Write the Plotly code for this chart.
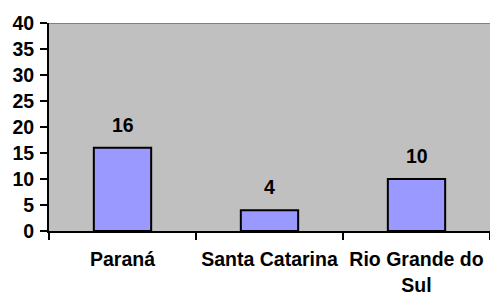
import plotly.graph_objects as go

categories = ["Paraná", "Santa Catarina", "Rio Grande do<br>Sul"]
values = [16, 4, 10]
y_ticks = [0, 5, 10, 15, 20, 25, 30, 35, 40]

FONT = dict(family="Liberation Sans, Arial, sans-serif", size=19.5, color="black", weight="bold")

fig = go.Figure()
fig.add_trace(go.Bar(
    x=categories, y=values,
    marker=dict(color="#9999FF", line=dict(color="black", width=2)),
    width=0.39,
    hoverinfo="skip",
))

for c, v in zip(categories, values):
    fig.add_annotation(x=c, y=v, text=str(v), showarrow=False,
                       yanchor="bottom", yshift=10, font=FONT)

fig.add_shape(type="line", xref="paper", yref="y", x0=0, x1=1, y0=40, y1=40,
              line=dict(color="#808080", width=2))

fig.update_layout(
    width=490, height=297,
    margin=dict(l=49, r=0, t=23, b=66),
    paper_bgcolor="white", plot_bgcolor="#C0C0C0",
    showlegend=False,
    font=FONT,
)
fig.update_yaxes(range=[0, 40], tickvals=y_ticks, ticks="outside", ticklen=7,
                 tickwidth=2, tickcolor="black", showline=True, linecolor="black",
                 linewidth=2, showgrid=False, zeroline=False, tickfont=FONT,
                 automargin=False, ticklabelstandoff=2)
fig.update_xaxes(ticks="outside", tickson="boundaries", ticklen=7, tickwidth=2,
                 tickcolor="black", showline=True, linecolor="black", linewidth=2,
                 showgrid=False, tickfont=FONT, automargin=False,
                 ticklabelstandoff=10)

fig.write_html("out.html",
               config={"displayModeBar": False},
               post_script="document.body.style.margin='0';document.body.style.overflow='hidden';")
